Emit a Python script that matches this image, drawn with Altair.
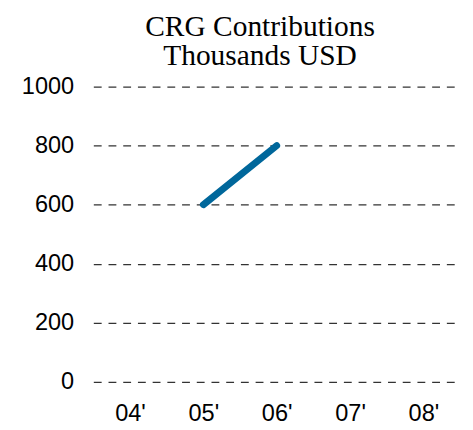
import altair as alt
import pandas as pd

years = ["04'", "05'", "06'", "07'", "08'"]
contrib = [None, 600, 800, None, None]

df = pd.DataFrame({"year": years, "value": contrib})

chart = alt.Chart(df).mark_line(
    color="#00679b", strokeWidth=7, strokeCap="round"
).encode(
    x=alt.X("year:O", sort=years,
            scale=alt.Scale(domain=years, padding=0.5),
            axis=alt.Axis(title=None, labelAngle=0, ticks=False, domain=False,
                          grid=False, labelFont="Liberation Sans", labelFontSize=24,
                          labelColor="#000", labelPadding=20)),
    y=alt.Y("value:Q",
            scale=alt.Scale(domain=[0, 1000]),
            axis=alt.Axis(title=None, values=[0, 200, 400, 600, 800, 1000],
                          format="d",
                          ticks=False, domain=False, grid=True,
                          gridColor="#333", gridDash=[8, 7], gridWidth=1.3,
                          labelFont="Liberation Sans", labelFontSize=24,
                          labelColor="#000", labelPadding=20, minExtent=82)),
).properties(
    width=374, height=301,
    padding={"left": 5, "top": 0, "right": 5, "bottom": 5},
    title=alt.TitleParams(["CRG Contributions", "Thousands USD"],
                          font="Liberation Serif", fontSize=30, fontWeight="normal",
                          color="#000", lineHeight=30, anchor="middle", dx=-17,
                          offset=4),
).configure_view(stroke=None)

chart.save("out.html", embed_options={"renderer": "svg", "actions": False})
